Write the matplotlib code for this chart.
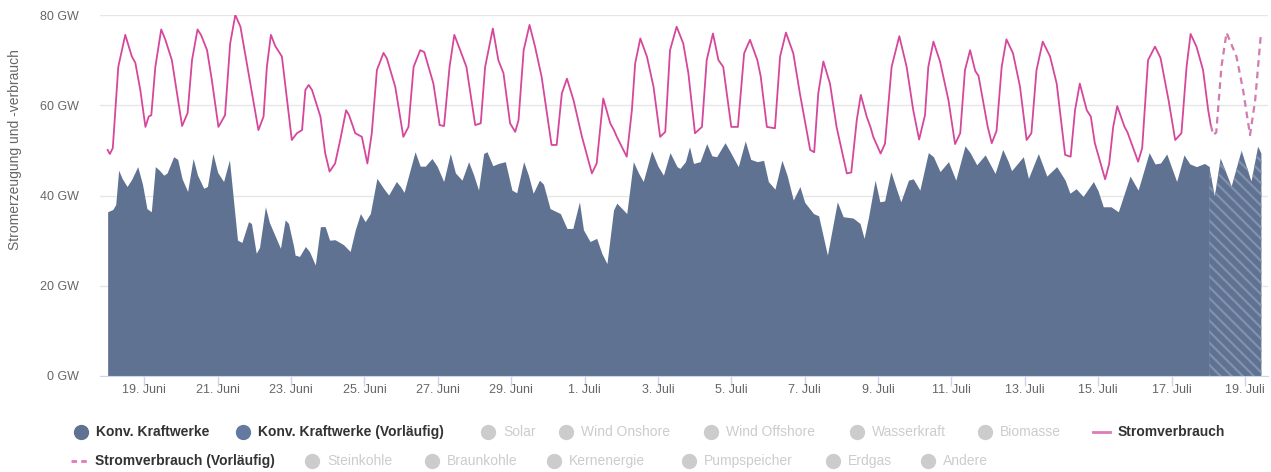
import numpy as np
import pandas as pd
import matplotlib
matplotlib.use("Agg")
import matplotlib.pyplot as plt
from matplotlib.lines import Line2D

plt.rcParams['font.family'] = ['Liberation Sans', 'DejaVu Sans']
plt.rcParams['hatch.linewidth'] = 1.6

START = pd.Timestamp('2018-06-18')

# Stromverbrauch, Tage ab 18. Juni 00:00 / GW
verbrauch_tage = [
    0.00, 0.06, 0.14, 0.29, 0.48, 0.66, 0.755, 0.89, 1.03, 1.12, 1.19, 1.30, 1.46, 1.57, 1.75,
    1.89, 2.03, 2.18, 2.30, 2.45, 2.55, 2.71, 2.84, 3.02, 3.20, 3.34, 3.48, 3.62, 3.84, 4.11,
    4.25, 4.34, 4.45, 4.57, 4.75, 5.02, 5.16, 5.30, 5.39, 5.48, 5.57, 5.80, 5.93, 6.05, 6.20,
    6.34, 6.50, 6.58, 6.75, 6.93, 7.08, 7.20, 7.34, 7.52, 7.61, 7.84, 8.06, 8.20, 8.34, 8.52,
    8.63, 8.88, 9.05, 9.17, 9.32, 9.45, 9.61, 9.78, 10.02, 10.17, 10.29, 10.50, 10.65, 10.79,
    10.97, 11.11, 11.20, 11.34, 11.50, 11.65, 11.83, 12.10, 12.24, 12.38, 12.52, 12.70, 12.93,
    13.20, 13.33, 13.51, 13.70, 13.80, 13.88, 14.15, 14.29, 14.38, 14.52, 14.70, 14.88, 15.06,
    15.20, 15.33, 15.51, 15.69, 15.83, 16.01, 16.20, 16.33, 16.50, 16.65, 16.78, 17.00, 17.18,
    17.35, 17.51, 17.71, 17.80, 17.97, 18.19, 18.33, 18.49, 18.69, 18.87, 19.15, 19.26, 19.37,
    19.51, 19.69, 19.87, 20.15, 20.27, 20.42, 20.53, 20.69, 20.80, 20.87, 21.07, 21.19, 21.37,
    21.58, 21.78, 21.96, 22.12, 22.28, 22.37, 22.51, 22.69, 22.92, 23.10, 23.24, 23.37, 23.51,
    23.65, 23.74, 23.99, 24.10, 24.23, 24.37, 24.50, 24.68, 24.87, 25.05, 25.18, 25.32, 25.49,
    25.69, 25.87, 26.10, 26.25, 26.37, 26.50, 26.69, 26.80, 26.91, 27.19, 27.30, 27.41, 27.52,
    27.72, 27.80, 28.09, 28.20, 28.36, 28.55, 28.70, 28.92, 29.10, 29.27, 29.41, 29.52, 29.68,
    29.86, 30.00, 30.07,
]
verbrauch_gw = [
    50.1, 49.2, 50.5, 68.5, 75.6, 70.8, 69.4, 63.4, 55.2, 57.5, 57.8, 68.5, 76.8, 74.6, 70.0,
    62.7, 55.4, 58.3, 70.0, 76.8, 75.5, 72.2, 65.6, 55.2, 57.8, 73.7, 80.0, 77.4, 67.1, 54.5,
    57.5, 68.5, 75.6, 73.1, 70.8, 52.3, 53.8, 54.5, 63.4, 64.5, 63.4, 57.5, 49.4, 45.3, 47.1,
    52.3, 58.9, 57.8, 53.8, 53.0, 47.1, 53.8, 67.8, 71.6, 70.4, 64.1, 53.0, 55.2, 68.5, 72.2,
    71.8, 64.8, 55.6, 55.4, 68.5, 75.6, 72.2, 68.5, 55.6, 56.0, 68.5, 77.0, 70.0, 67.1,
    56.0, 54.1, 56.7, 72.2, 77.8, 73.0, 66.3, 51.2, 51.2, 62.6, 65.9, 61.1, 53.0,
    44.9, 47.1, 61.5, 56.0, 54.5, 53.0, 48.6, 58.9, 69.3, 74.8, 70.8, 64.1, 53.0,
    54.1, 72.2, 77.4, 73.7, 67.1, 53.8, 55.2, 70.0, 75.9, 70.0, 68.5, 55.2, 55.2,
    71.5, 74.5, 70.0, 66.5, 55.2, 54.9, 70.8, 76.1, 71.5, 62.6, 50.1, 49.6, 62.6,
    69.7, 64.8, 55.2, 44.9, 45.1, 56.7, 62.3, 57.5, 55.0, 53.0, 49.3, 51.5, 68.5,
    75.3, 68.5, 58.9, 52.4, 57.8, 68.5, 74.1, 69.7, 61.1, 51.4, 53.8, 67.8, 72.2,
    67.6, 66.5, 55.2, 51.6, 54.3, 68.5, 74.6, 71.5, 64.1, 52.3, 53.8, 67.8, 74.1,
    70.8, 64.8, 49.0, 48.6, 58.9, 64.8, 58.9, 57.5, 51.6, 43.6, 47.0, 55.2, 59.8,
    55.2, 54.0, 47.5, 50.5, 70.0, 73.0, 70.5, 61.1, 52.3, 53.8, 68.5, 75.8, 73.0,
    67.8, 58.9, 55.6,
]

# Stromverbrauch (Vorläufig)
verbrauch_vl_tage = [30.07, 30.14, 30.22, 30.36, 30.50, 30.77, 30.95, 31.14, 31.28, 31.43]
verbrauch_vl_gw = [55.6, 53.4, 54.0, 68.5, 76.1, 70.8, 63.4, 53.4, 61.1, 75.2]

# Konv. Kraftwerke
konv_tage = [
    0.00, 0.14, 0.22, 0.30, 0.40, 0.53, 0.65, 0.82, 0.95, 1.07, 1.19, 1.30, 1.41, 1.53, 1.62,
    1.80, 1.91, 2.03, 2.18, 2.33, 2.45, 2.62, 2.72, 2.87, 3.00, 3.16, 3.32, 3.43, 3.54, 3.66,
    3.84, 3.92, 4.05, 4.14, 4.30, 4.41, 4.71, 4.84, 4.93, 5.07, 5.11, 5.23, 5.39, 5.50, 5.66,
    5.80, 5.93, 6.05, 6.20, 6.43, 6.61, 6.75, 6.89, 7.02, 7.16, 7.34, 7.52, 7.66, 7.87, 7.98,
    8.08, 8.38, 8.52, 8.66, 8.84, 8.98, 9.16, 9.34, 9.48, 9.66, 9.84, 9.98, 10.11, 10.25,
    10.34, 10.50, 10.65, 10.84, 11.02, 11.15, 11.34, 11.47, 11.60, 11.77, 11.88, 12.06, 12.34,
    12.52, 12.68, 12.86, 12.97, 13.15, 13.33, 13.47, 13.61, 13.79, 13.88, 14.15, 14.33, 14.47,
    14.60, 14.83, 15.00, 15.15, 15.33, 15.52, 15.60, 15.75, 15.86, 15.97, 16.15, 16.33, 16.47,
    16.60, 16.83, 16.97, 17.19, 17.38, 17.53, 17.71, 17.88, 18.01, 18.19, 18.38, 18.52, 18.69,
    18.87, 19.00, 19.24, 19.38, 19.62, 19.75, 19.89, 20.05, 20.32, 20.51, 20.62, 20.74, 20.92,
    21.05, 21.18, 21.35, 21.48, 21.62, 21.83, 21.96, 22.14, 22.37, 22.51, 22.69, 22.92, 23.12,
    23.37, 23.51, 23.69, 23.92, 24.19, 24.40, 24.55, 24.64, 24.96, 25.10, 25.37, 25.60, 25.87,
    26.10, 26.23, 26.40, 26.59, 26.87, 27.00, 27.14, 27.35, 27.55, 27.87, 28.09, 28.39, 28.55,
    28.70, 28.87, 29.14, 29.34, 29.50, 29.68, 29.90, 30.03,
]
konv_gw = [
    36.4, 36.9, 38.0, 45.6, 43.7, 42.0, 43.5, 46.4, 42.5, 37.1, 36.4, 46.4, 45.6, 44.5, 45.0,
    48.6, 48.0, 43.7, 40.9, 48.2, 44.5, 41.6, 42.0, 49.3, 45.1, 43.1, 47.9, 39.0, 30.1, 29.6,
    34.2, 33.8, 27.2, 28.5, 37.5, 34.0, 28.3, 34.6, 33.8, 28.7, 26.8, 26.5, 28.7, 27.6, 24.6,
    33.1, 33.1, 30.1, 30.2, 29.1, 27.6, 32.4, 36.0, 34.2, 36.0, 43.8, 41.6, 40.1, 43.1, 42.0,
    40.7, 49.7, 46.5, 46.5, 48.2, 46.5, 43.1, 49.3, 45.0, 43.4, 47.5, 44.5, 41.2, 49.3,
    49.7, 46.6, 47.1, 47.5, 41.2, 40.6, 47.5, 44.5, 40.5, 43.4, 42.5, 37.1, 36.0,
    32.7, 32.7, 38.6, 32.4, 29.8, 30.5, 27.2, 24.9, 36.8, 38.3, 36.0, 47.5, 45.0,
    43.1, 49.9, 46.5, 44.5, 49.5, 46.4, 46.0, 47.5, 50.8, 47.1, 47.5, 51.5, 48.8,
    48.6, 51.7, 49.7, 46.4, 52.1, 48.0, 47.5, 47.8, 43.1, 41.4, 47.8, 44.5, 39.0,
    42.0, 38.5, 36.0, 35.5, 26.8, 32.5, 38.6, 35.3, 35.0, 33.8, 30.5, 35.2, 43.4,
    38.6, 38.8, 45.3, 42.0, 38.6, 43.4, 43.7, 41.2, 49.5, 48.6, 45.3, 47.5, 43.4,
    51.0, 49.5, 46.8, 49.0, 44.9, 50.2, 47.5, 45.5, 48.6, 43.8, 49.3, 44.3, 46.4,
    43.4, 40.5, 41.5, 39.8, 43.1, 41.0, 37.5, 37.5, 36.4, 44.3, 41.2, 49.5, 47.0,
    47.2, 49.2, 43.1, 49.0, 47.0, 46.4, 47.1, 46.4,
]

# Konv. Kraftwerke (Vorläufig)
konv_vl_tage = [30.03, 30.18, 30.34, 30.64, 30.91, 31.18, 31.36, 31.45]
konv_vl_gw = [46.4, 39.8, 48.2, 42.0, 49.9, 43.1, 50.8, 49.3]

y_ticks = [0, 20, 40, 60, 80]
x_tick_dates = pd.date_range('2018-06-19', '2018-07-19', freq='2D')
monate = {6: 'Juni', 7: 'Juli'}

legende_1 = ['Konv. Kraftwerke', 'Konv. Kraftwerke (Vorläufig)', 'Solar', 'Wind Onshore',
             'Wind Offshore', 'Wasserkraft', 'Biomasse', 'Stromverbrauch']
legende_2 = ['Stromverbrauch (Vorläufig)', 'Steinkohle', 'Braunkohle', 'Kernenergie',
             'Pumpspeicher', 'Erdgas', 'Andere']


def to_dt(tage):
    return START + pd.to_timedelta(np.array(tage), unit='D')


W, H = 1271, 472
BLUE = '#5f7291'
PINK = '#d6479c'
GRID = '#e6e6e6'

fig = plt.figure(figsize=(W / 100, H / 100), dpi=100)
fig.patch.set_facecolor('white')
ax = fig.add_axes([100 / W, 1 - 376 / H, 1168 / W, 361 / H])

t_konv = to_dt(konv_tage)
t_konv_vl = to_dt(konv_vl_tage)
ax.fill_between(t_konv, 0, konv_gw, color=BLUE, lw=0, zorder=2)
ax.fill_between(t_konv_vl, 0, konv_vl_gw, facecolor=BLUE, edgecolor='#8291ad',
                hatch='\\\\\\', lw=0, zorder=2)
ax.plot(to_dt(verbrauch_tage), verbrauch_gw, color=PINK, lw=1.3, zorder=3,
        solid_joinstyle='round')
ax.plot(to_dt(verbrauch_vl_tage), verbrauch_vl_gw, color='#d17bb0', lw=1.6,
        ls=(0, (3, 2.2)), zorder=3)

ax.set_xlim(START - pd.Timedelta(hours=5), START + pd.Timedelta(days=31.63))
ax.set_ylim(0, 80)

ax.set_yticks(y_ticks)
ax.set_yticklabels([f'{v} GW' for v in y_ticks])
ax.set_xticks(x_tick_dates)
ax.set_xticklabels([f'{d.day}. {monate[d.month]}' for d in x_tick_dates])

ax.grid(axis='y', color=GRID, lw=1, zorder=0)
ax.set_axisbelow(True)
for s in ['top', 'right', 'left']:
    ax.spines[s].set_visible(False)
ax.spines['bottom'].set_color('#ccd6eb')
ax.spines['bottom'].set_zorder(4)
ax.tick_params(axis='y', length=0, pad=15.5, labelsize=9, labelcolor='#666666')
ax.tick_params(axis='x', length=7, width=1, color='#ccd6eb', pad=-1.5,
               labelsize=9, labelcolor='#666666')

fig.text(15 / W, 1 - 150 / H, 'Stromerzeugung und -verbrauch', rotation=90,
         ha='center', va='center', fontsize=10, color='#666666')


# Legende
def marker(x, y, color):
    fig.add_artist(Line2D([x / W], [1 - y / H], marker='o', markersize=10, color=color,
                          transform=fig.transFigure))


def strich(x0, x1, y, color, ls='-'):
    fig.add_artist(Line2D([x0 / W, x1 / W], [1 - y / H, 1 - y / H], color=color, lw=2,
                          ls=ls, transform=fig.transFigure))


def label(x, y, text, aktiv):
    fig.text(x / W, 1 - y / H, text, ha='left', va='center', fontsize=10,
             fontweight='bold' if aktiv else 'normal',
             color='#333333' if aktiv else '#cccccc')


pos_1 = [81, 243, 488, 566, 711, 857, 985]
pos_2 = [312, 432, 554, 689, 833, 928]
y1, y2 = 432, 461

marker(pos_1[0], y1, BLUE)
label(pos_1[0] + 15, y1, legende_1[0], True)
marker(pos_1[1], y1, '#6479a0')
label(pos_1[1] + 15, y1, legende_1[1], True)
for x, txt in zip(pos_1[2:], legende_1[2:7]):
    marker(x, y1, '#cccccc')
    label(x + 15, y1, txt, False)
strich(1093, 1110, y1, '#e07ab8')
label(1118, y1, legende_1[7], True)

strich(71, 89, y2, '#e07ab8', ls=(0, (2, 1.5)))
label(95, y2, legende_2[0], True)
for x, txt in zip(pos_2, legende_2[1:]):
    marker(x, y2, '#cccccc')
    label(x + 15, y2, txt, False)

fig.savefig('out.png', dpi=100, facecolor='white')
